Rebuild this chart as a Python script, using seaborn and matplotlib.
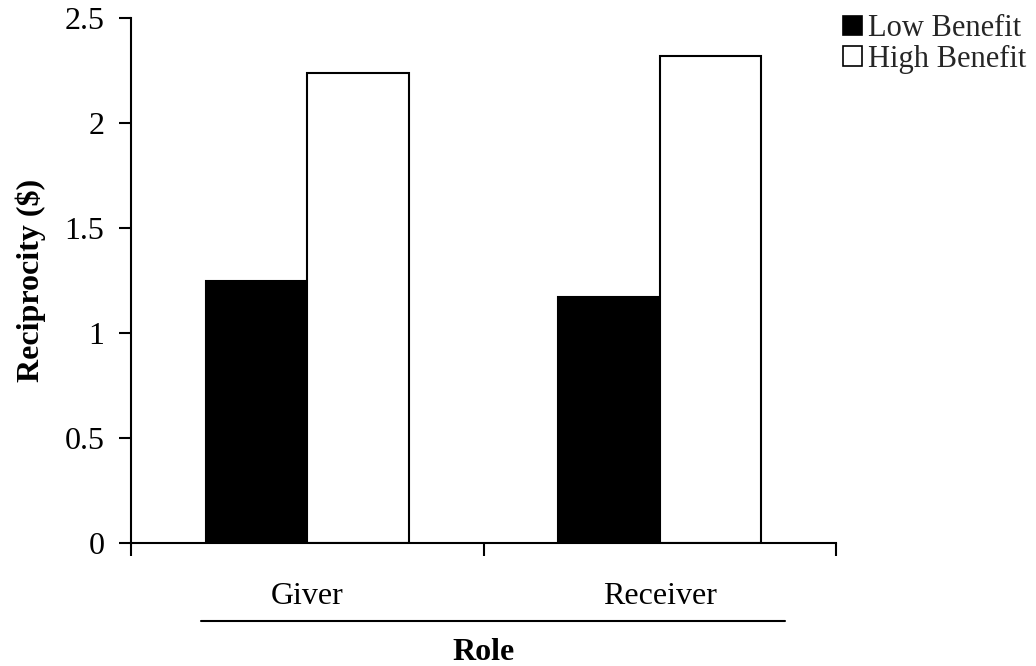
import matplotlib
matplotlib.use("Agg")
import matplotlib.pyplot as plt
import seaborn as sns
import pandas as pd
from matplotlib.patches import Patch
from matplotlib.lines import Line2D

roles = ["Giver", "Receiver"]
benefits = ["Low Benefit", "High Benefit"]
low_values = [1.25, 1.17]
high_values = [2.24, 2.32]
y_ticks = [0, 0.5, 1, 1.5, 2, 2.5]
y_tick_labels = ["0", "0.5", "1", "1.5", "2", "2.5"]

df = pd.DataFrame({
    "Role": roles * 2,
    "Benefit": [benefits[0]] * 2 + [benefits[1]] * 2,
    "Value": low_values + high_values,
})

sns.set_theme(style="white")
plt.rcParams["font.family"] = ["Liberation Serif", "DejaVu Serif"]

fig = plt.figure(figsize=(10.36, 6.66), dpi=100)
ax = fig.add_axes([0.12645, 0.18468, 0.6805, 0.78829])

palette = {"Low Benefit": "black", "High Benefit": "white"}
sns.barplot(data=df, x="Role", y="Value", hue="Benefit", order=roles,
            hue_order=benefits, palette=palette, edgecolor="black",
            linewidth=1.5, width=0.575, gap=0, ax=ax, legend=False)

ax.set_xlim(-0.5, 1.5)
ax.set_ylim(0, 2.5)
ax.set_yticks(y_ticks)
ax.set_yticklabels(y_tick_labels)
ax.set_xticks([0, 1])
ax.set_xticklabels(roles)
ax.set_xticks([-0.5, 0.5, 1.5], minor=True)
ax.tick_params(axis="x", which="major", length=0, pad=28, labelsize=23, colors="black")
ax.tick_params(axis="x", which="minor", length=9, width=1.5, direction="out", bottom=True, color="black")
ax.tick_params(axis="y", length=9, width=1.5, direction="out", left=True, labelsize=23, pad=10, colors="black")

for s in ["top", "right"]:
    ax.spines[s].set_visible(False)
for s in ["left", "bottom"]:
    ax.spines[s].set_color("black")
    ax.spines[s].set_linewidth(1.5)

ax.set_xlabel("")
ax.set_ylabel("Reciprocity ($)", fontsize=23, fontweight="bold", color="black")
ax.yaxis.set_label_coords(-0.1206, 0.5)

fig.add_artist(Line2D([0.194, 0.758], [0.0676, 0.0676], color="black", lw=1.5))
fig.text(0.4665, 0.021, "Role", ha="center", va="center", fontsize=23,
         fontweight="bold", color="black")

handles = [Patch(facecolor=palette[b], edgecolor="black", linewidth=1.2) for b in benefits]
fig.legend(handles, benefits, loc="upper left", bbox_to_anchor=(0.808, 0.988),
           frameon=False, fontsize=22, handlelength=0.6, handleheight=0.6,
           handletextpad=0.2, labelspacing=0.05, borderaxespad=0, borderpad=0.2)

fig.savefig("out.png", dpi=100, facecolor="white")
